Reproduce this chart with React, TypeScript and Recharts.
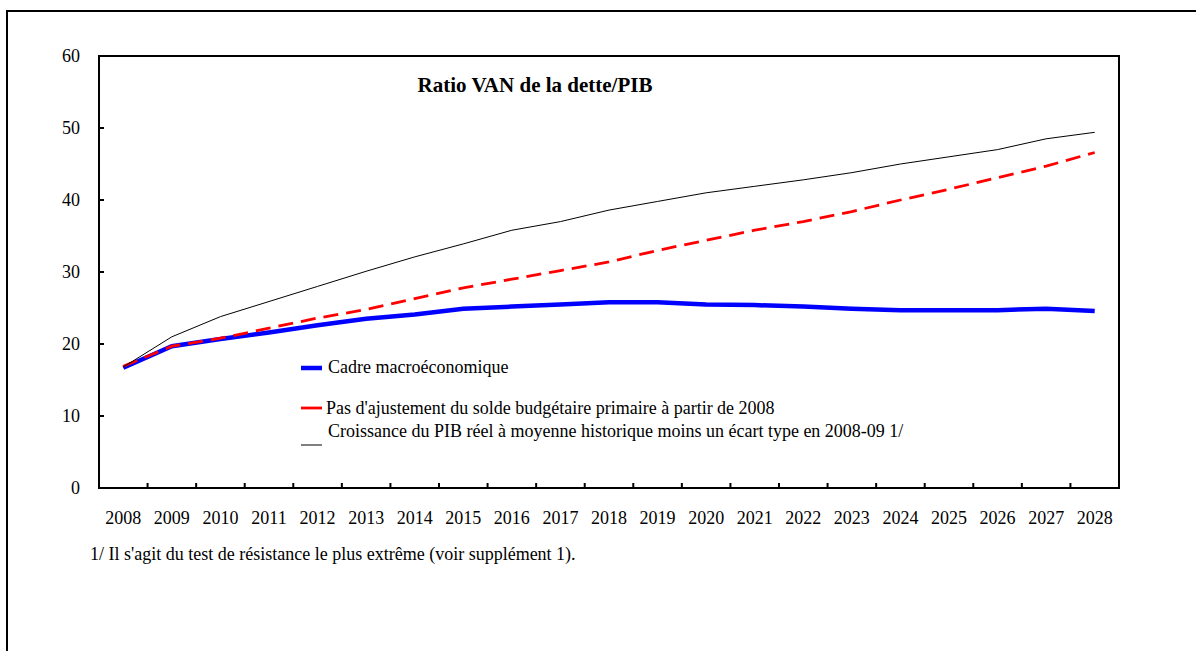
import React from 'react';
import { LineChart, Line, XAxis, YAxis, ReferenceArea } from 'recharts';

const years = [2008, 2009, 2010, 2011, 2012, 2013, 2014, 2015, 2016, 2017, 2018, 2019, 2020, 2021, 2022, 2023, 2024, 2025, 2026, 2027, 2028];
const cadre = [16.7, 19.7, 20.7, 21.6, 22.6, 23.5, 24.1, 24.9, 25.2, 25.5, 25.8, 25.8, 25.5, 25.4, 25.2, 24.9, 24.7, 24.7, 24.7, 24.9, 24.6];
const pasAjustement = [16.9, 19.7, 20.8, 22.2, 23.6, 24.8, 26.3, 27.8, 29.0, 30.2, 31.4, 33.0, 34.4, 35.8, 37.0, 38.4, 40.0, 41.5, 43.1, 44.7, 46.6];
const croissance = [16.8, 21.0, 23.8, 25.9, 28.0, 30.1, 32.1, 33.9, 35.8, 37.0, 38.6, 39.8, 41.0, 41.9, 42.8, 43.8, 45.0, 46.0, 47.0, 48.5, 49.4];
const yTicks = [0, 10, 20, 30, 40, 50, 60];

const title = 'Ratio VAN de la dette/PIB';
const legendLabels = [
  'Cadre macroéconomique',
  "Pas d'ajustement du solde budgétaire primaire à partir de 2008",
  'Croissance du PIB réel à moyenne historique moins un écart type en 2008-09 1/',
];
const footnote = "1/ Il s'agit du test de résistance le plus extrême (voir supplément 1).";

const data = years.map((year, i) => ({
  year,
  cadre: cadre[i],
  pas: pasAjustement[i],
  croissance: croissance[i],
}));
const xDomain = [years[0] - 0.5, years[years.length - 1] + 0.5];
const boundaries = years.slice(0, -1).map((y) => y + 0.5);

const FONT = '"Liberation Serif", "Times New Roman", serif';
const Y_MARGIN = 19;
const TICK_LEN = 5;

const EmptyTick = () => <g />;

const YTick = (props: any) => {
  const { x, y, payload } = props;
  return (
    <g>
      <text x={x} y={y} dy="0.355em" textAnchor="end" fontSize={18} fontFamily={FONT} fill="#000">
        {payload.value}
      </text>
      <line x1={x + Y_MARGIN} x2={x + Y_MARGIN + TICK_LEN} y1={y} y2={y} stroke="#000" strokeWidth={2} />
    </g>
  );
};

export default function App() {
  return (
    <div style={{ position: 'absolute', left: 0, top: 0, width: 1196, height: 651, overflow: 'hidden', background: '#fff' }}>
      <div style={{ position: 'absolute', left: 6, top: 10, width: 1190, height: 641, borderTop: '2px solid #000', borderLeft: '2px solid #000', boxSizing: 'border-box' }} />
      <div style={{ position: 'absolute', left: 0, top: 0 }}>
        <LineChart width={1196} height={651} data={data} margin={{ top: 56, right: 77, bottom: 0, left: 0 }}>
          <XAxis
            dataKey="year"
            type="number"
            domain={xDomain}
            allowDataOverflow
            ticks={years}
            interval={0}
            height={163}
            tickSize={0}
            tickMargin={23}
            axisLine={{ stroke: '#000', strokeWidth: 2 }}
            tickLine={false}
            tick={{ fontSize: 18, fill: '#000', fontFamily: FONT }}
          />
          <XAxis
            xAxisId="m"
            dataKey="year"
            type="number"
            domain={xDomain}
            allowDataOverflow
            ticks={boundaries}
            interval={0}
            mirror
            tick={EmptyTick}
            tickSize={TICK_LEN}
            axisLine={false}
            tickLine={{ stroke: '#000', strokeWidth: 2 }}
          />
          <YAxis
            type="number"
            domain={[0, 60]}
            allowDataOverflow
            ticks={yTicks}
            interval={0}
            width={99}
            tickSize={0}
            tickMargin={Y_MARGIN}
            axisLine={{ stroke: '#000', strokeWidth: 2 }}
            tickLine={false}
            tick={YTick}
          />
          <ReferenceArea
            x1={xDomain[0]}
            x2={xDomain[1]}
            y1={0}
            y2={60}
            fill="none"
            fillOpacity={0}
            stroke="#000"
            strokeWidth={2}
            strokeOpacity={1}
            ifOverflow="visible"
          />
          <Line dataKey="cadre" stroke="#0000FF" strokeWidth={4.5} dot={false} activeDot={false} isAnimationActive={false} />
          <Line dataKey="pas" stroke="#FF0000" strokeWidth={2.8} strokeDasharray="15 8" dot={false} activeDot={false} isAnimationActive={false} />
          <Line dataKey="croissance" stroke="#000" strokeWidth={1} dot={false} activeDot={false} isAnimationActive={false} />
        </LineChart>
      </div>
      <svg width={1196} height={651} style={{ position: 'absolute', left: 0, top: 0, pointerEvents: 'none' }}>
        <text x={535} y={92} textAnchor="middle" fontFamily={FONT} fontSize={21} fontWeight="bold" fill="#000">{title}</text>
        <line x1={301} x2={322} y1={368} y2={368} stroke="#0000FF" strokeWidth={4.5} />
        <text x={328} y={373} fontFamily={FONT} fontSize={18} fill="#000">{legendLabels[0]}</text>
        <line x1={301} x2={322} y1={408} y2={408} stroke="#FF0000" strokeWidth={2.8} />
        <text x={326} y={414} fontFamily={FONT} fontSize={18} fill="#000">{legendLabels[1]}</text>
        <line x1={301} x2={322} y1={445} y2={445} stroke="#000" strokeWidth={1} />
        <text x={328} y={437} fontFamily={FONT} fontSize={18} fill="#000">{legendLabels[2]}</text>
        <text x={90} y={560} fontFamily={FONT} fontSize={18} fill="#000">{footnote}</text>
      </svg>
    </div>
  );
}
